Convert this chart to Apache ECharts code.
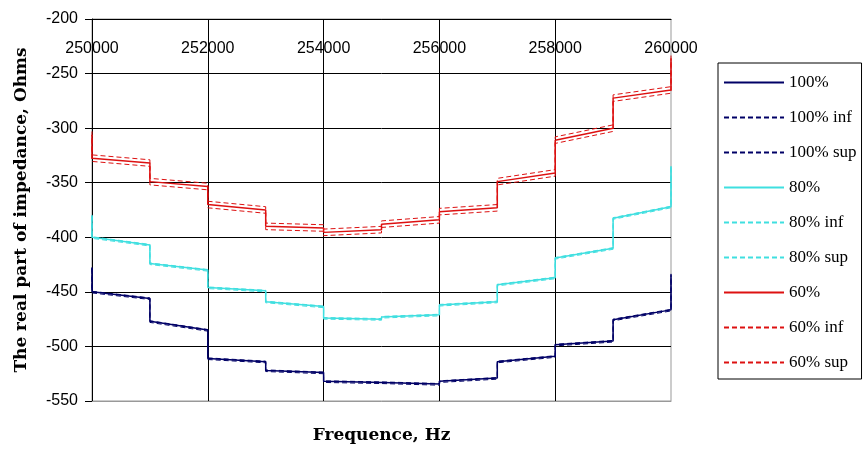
<!DOCTYPE html>
<html>
<head>
<meta charset="utf-8">
<script src="https://cdn.jsdelivr.net/npm/echarts@6/dist/echarts.min.js"></script>
<style>
  html, body { margin: 0; padding: 0; background: #fff; }
  #chart { width: 864px; height: 450px; }
</style>
</head>
<body>
<div id="chart"></div>
<script>
// frequency points: each 1000 Hz band is one step (start + end), plus the end spikes
const freqs = [250000, 250000, 251000, 251000, 252000, 252000, 253000, 253000, 254000, 254000, 255000,
  255000, 256000, 256000, 257000, 257000, 258000, 258000, 259000, 259000, 260000, 260000]

const r100 = [-428, -450, -456, -477, -485, -511, -514, -522, -524, -532, -533,
  -533.5, -534.5, -532, -529, -514, -509, -498.5, -495, -475.5, -466.5, -434]
const r100Inf = [-429, -451, -457, -478, -486, -512, -515, -523, -525, -533, -534,
  -534.5, -535.5, -533, -530, -515, -510, -499.5, -496, -476.5, -467.5, -435]
const r100Sup = [-427.5, -449.5, -455.5, -476.5, -484.5, -510.5, -513.5, -521.5, -523.5, -531.5, -532.5,
  -533, -534, -531.5, -528.5, -513.5, -508.5, -498, -494.5, -475, -466, -433.5]

const r80 = [-380, -400, -407, -424, -430, -446, -449, -459, -463.5, -474, -475,
  -473, -471, -462, -459, -443.5, -437, -419, -410, -382.5, -372, -335]
const r80Inf = [-381, -401, -408, -425, -431, -447, -450, -460, -464.5, -475, -476,
  -474, -472, -463, -460, -444.5, -438, -420, -411, -383.5, -373, -336]
const r80Sup = [-379.5, -399.5, -406.5, -423.5, -429.5, -445.5, -448.5, -458.5, -463, -473.5, -474.5,
  -472.5, -470.5, -461.5, -458.5, -443, -436.5, -418.5, -409.5, -382, -371.5, -334.5]

const r60 = [-306, -327.5, -332, -349, -353.5, -370, -375, -390, -391.5, -395.5, -393,
  -388, -384, -376.5, -373, -349, -341, -311, -300, -272.5, -265, -236]
const r60Inf = [-309, -330.5, -335, -352, -356.5, -373, -378, -393, -394.5, -398.5, -396,
  -391, -387, -379.5, -376, -352, -344, -314, -303, -275.5, -268, -239]
const r60Sup = [-303, -324.5, -329, -346, -350.5, -367, -372, -387, -388.5, -392.5, -390,
  -385, -381, -373.5, -370, -346, -338, -308, -297, -269.5, -262, -233]

const navy = '#000066'
const cyan = '#3fdfe0'
const red = '#dd1111'

function pairs(vals) {
  return freqs.map((f, i) => [f, vals[i]])
}

function line(name, vals, color, dashed) {
  return {
    name: name,
    type: 'line',
    data: pairs(vals),
    symbol: 'none',
    silent: true,
    animation: false,
    lineStyle: {
      color: color,
      width: dashed ? 1 : 1.5,
      type: dashed ? [5, 3] : 'solid'
    },
    itemStyle: { color: color }
  }
}

const plainNum = v => String(v)

const chart = echarts.init(document.getElementById('chart'))
chart.setOption({
  backgroundColor: '#fff',
  grid: {
    left: 92,
    right: 193,
    top: 19,
    bottom: 49,
    show: true,
    borderColor: '#999',
    borderWidth: 1
  },
  legend: {
    orient: 'vertical',
    left: 718,
    top: 63,
    padding: [11, 5, 8, 5],
    itemWidth: 60,
    itemHeight: 14,
    itemGap: 18,
    backgroundColor: '#fff',
    borderColor: '#000',
    borderWidth: 1,
    itemStyle: { opacity: 0 },
    textStyle: {
      fontFamily: 'Liberation Serif',
      fontSize: 17,
      color: '#000'
    }
  },
  xAxis: [{
    type: 'value',
    position: 'top',
    min: 250000,
    max: 260000,
    interval: 2000,
    axisLine: { lineStyle: { color: '#000', width: 1 } },
    axisTick: { show: false },
    axisLabel: {
      inside: true,
      margin: 22,
      formatter: plainNum,
      fontFamily: 'Liberation Sans',
      fontSize: 16,
      color: '#000'
    },
    splitLine: {
      showMaxLine: false,
      lineStyle: { color: '#000', width: 1 }
    }
  }, {
    type: 'value',
    position: 'bottom',
    min: 250000,
    max: 260000,
    axisLine: { lineStyle: { color: '#999', width: 1 } },
    axisTick: { show: false },
    axisLabel: { show: false },
    splitLine: { show: false },
    name: 'Frequence, Hz',
    nameLocation: 'middle',
    nameGap: 26,
    nameTextStyle: {
      fontFamily: 'DejaVu Serif',
      fontWeight: 'bold',
      fontSize: 17,
      color: '#000'
    }
  }],
  yAxis: {
    type: 'value',
    min: -550,
    max: -200,
    interval: 50,
    name: 'The real part of impedance, Ohms',
    nameLocation: 'middle',
    nameGap: 62,
    nameTextStyle: {
      fontFamily: 'DejaVu Serif',
      fontWeight: 'bold',
      fontSize: 17,
      color: '#000'
    },
    axisLine: { show: true, lineStyle: { color: '#000', width: 1 } },
    axisTick: { show: true, length: 7, lineStyle: { color: '#000' } },
    axisLabel: {
      margin: 14,
      fontFamily: 'Liberation Sans',
      fontSize: 16,
      color: '#000'
    },
    splitLine: {
      showMinLine: false,
      lineStyle: { color: '#000', width: 1 }
    }
  },
  series: [
    line('100%', r100, navy, false),
    line('100% inf', r100Inf, navy, true),
    line('100% sup', r100Sup, navy, true),
    line('80%', r80, cyan, false),
    line('80% inf', r80Inf, cyan, true),
    line('80% sup', r80Sup, cyan, true),
    line('60%', r60, red, false),
    line('60% inf', r60Inf, red, true),
    line('60% sup', r60Sup, red, true)
  ]
})
</script>
</body>
</html>
